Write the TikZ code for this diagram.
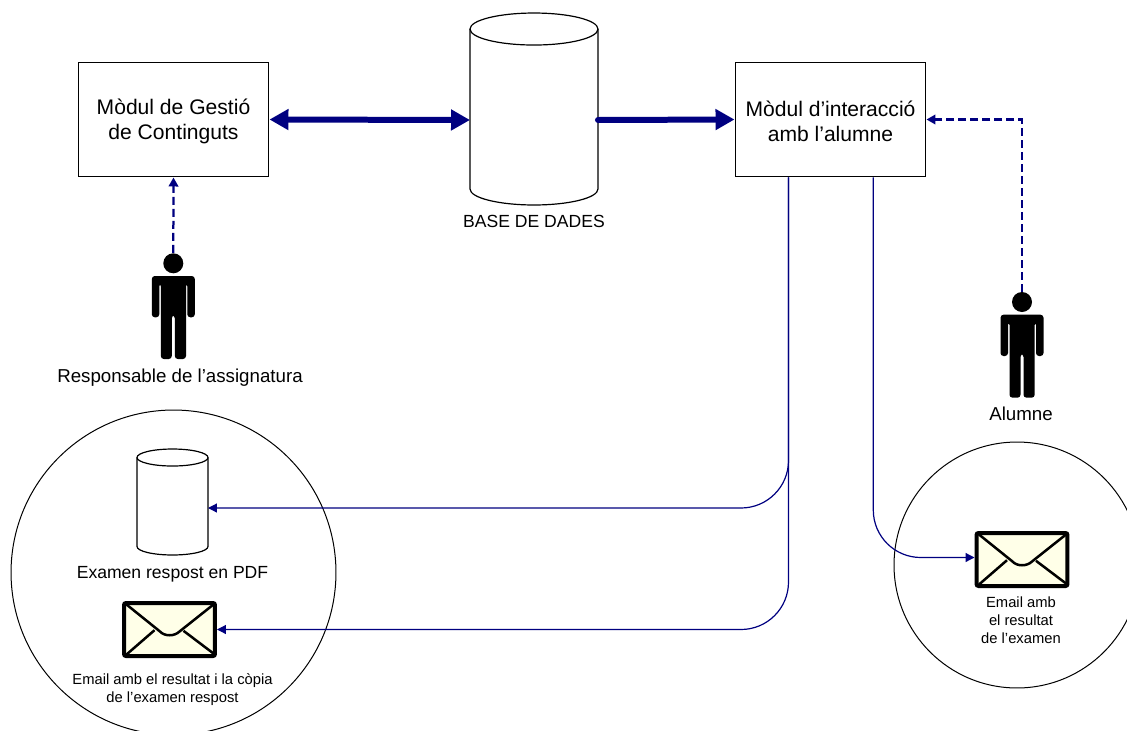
\documentclass[tikz,border=0pt]{standalone}
\usepackage{fontspec}
\setmainfont{Liberation Sans}
\usetikzlibrary{arrows.meta}
\definecolor{linkblue}{HTML}{000080}
\definecolor{mailfill}{HTML}{FFFFE8}

\tikzset{
  modul/.style={draw, line width=0.02cm, minimum width=3.82cm, minimum height=2.3cm, inner sep=0, align=center, text height=25pt, font=\fontsize{12}{14.2}\selectfont},
  dbase/.style={inner sep=0, outer sep=0},
  dbline/.style={line width=0.024cm},
  round/.style={draw, circle, line width=0.02cm, inner sep=0},
  label big/.style={font=\fontsize{10}{12}\selectfont},
  label mid/.style={font=\fontsize{10.65}{12.7}\selectfont},
  label small/.style={align=center, font=\fontsize{8.4}{10.2}\selectfont},
  heavy/.style={color=linkblue, line width=0.12cm, line cap=round},
  thin link/.style={color=linkblue, line width=0.024cm, -{Triangle[length=0.18cm, width=0.18cm]}, rounded corners=0.95cm},
  dash link/.style={color=linkblue, line width=0.045cm, dash pattern=on 0.16cm off 0.08cm, -{Triangle[length=0.18cm, width=0.19cm]}},
  person/.pic={
    \node [circle, fill, inner sep=0, minimum size=0.4cm] (head) at (0,0) {};
    \fill [rounded corners=0.06cm] (-21.5,12.7) -- (21.5,12.7) -- (21.5,54) -- (14,54) -- (14,20) -- (12.7,20) -- (12.7,95.7) -- (1.5,95.7) -- (1.5,52) -- (-1.5,52) -- (-1.5,95.7) -- (-12.5,95.7) -- (-12.5,20) -- (-14,20) -- (-14,54) -- (-21.5,54) -- cycle;
  },
  envelope/.pic={
    \node [draw, fill=mailfill, line width=0.08cm, rounded corners=0.04cm, minimum width=1.82cm, minimum height=1.06cm, inner sep=0] (box) at (0,0) {};
    \draw [line width=0.05cm] (-43,-25) -- (-9.5,2) .. controls (-5,7) and (5,7) .. (10,2) -- (44,-25);
    \draw [line width=0.05cm] (-43,25) -- (-15,0.7);
    \draw [line width=0.05cm] (44,24) -- (14,1.3);
  },
}

% name, centre, half width, height, ellipse height (all in cm but the centre)
\newcommand{\dbcyl}[5]{
  \node [dbase, minimum width=#3*2cm, minimum height=#4cm] (#1) at #2 {};
  \draw [dbline] ([yshift=-#5cm]#1.north west) arc (180:0:#3cm and #5cm) -- ([yshift=#5cm]#1.south east) arc (0:-180:#3cm and #5cm) -- cycle;
  \draw [dbline] ([yshift=-#5cm]#1.north west) arc (180:360:#3cm and #5cm);
}

\begin{document}
\begin{tikzpicture}[x=0.02cm, y=-0.02cm]
  \useasboundingbox (0,0) rectangle (1127,731);

  % top row
  \node [modul] (gestio) at (173.5,119.5) {Mòdul de Gestió\\de Continguts};
  \node [modul] (interac) at (830.5,119.5) {Mòdul d’interacció\\amb l’alumne};
  \dbcyl{db}{(534,109)}{1.28}{3.84}{0.32}
  \node [label big] (dblabel) at (534,221) {BASE DE DADES};

  % people
  \pic (resp) at (173.3,263.3) {person};
  \pic (alum) at (1022,302) {person};
  \node [label mid] (resplabel) at (180,378) {Responsable de l’assignatura};
  \node [label mid] (alumlabel) at (1021,414) {Alumne};

  % the two circles
  \node [round, minimum size=6.5cm] (left) at (173.5,572.5) {};
  \node [round, minimum size=4.92cm] (right) at (1017,565) {};

  \dbcyl{pdf}{(172.5,502)}{0.71}{2.12}{0.17}
  \node [label big] (pdflabel) at (172.5,574.5) {Examen respost en PDF};
  \pic (mailL) at (169.5,629.5) {envelope};
  \node [label small] (maillabelL) at (172.5,690) {Email amb el resultat i la còpia\\de l’examen respost};
  \pic (mailR) at (1022,559.5) {envelope};
  \node [label small] (maillabelR) at (1021,620) {Email amb\\el resultat\\de l’examen};

  % links
  \draw [heavy, {Triangle[length=0.38cm, width=0.4cm]}-{Triangle[length=0.38cm, width=0.4cm]}] (gestio.east) -- ([yshift=-0.22cm]db.west);
  \draw [heavy, -{Triangle[length=0.38cm, width=0.4cm]}] ([yshift=-0.22cm]db.east) -- (interac.west);
  \draw [dash link] (resphead.north) -- (gestio.south);
  \draw [dash link] (alumhead.north) |- (interac.east);
  \draw [thin link] ([xshift=-0.84cm]interac.south) |- ([yshift=-0.12cm]pdf.east);
  \draw [thin link] ([xshift=-0.84cm]interac.south) |- (mailLbox.east);
  \draw [thin link] ([xshift=0.856cm]interac.south) |- ([yshift=0.04cm]mailRbox.west);
\end{tikzpicture}
\end{document}
